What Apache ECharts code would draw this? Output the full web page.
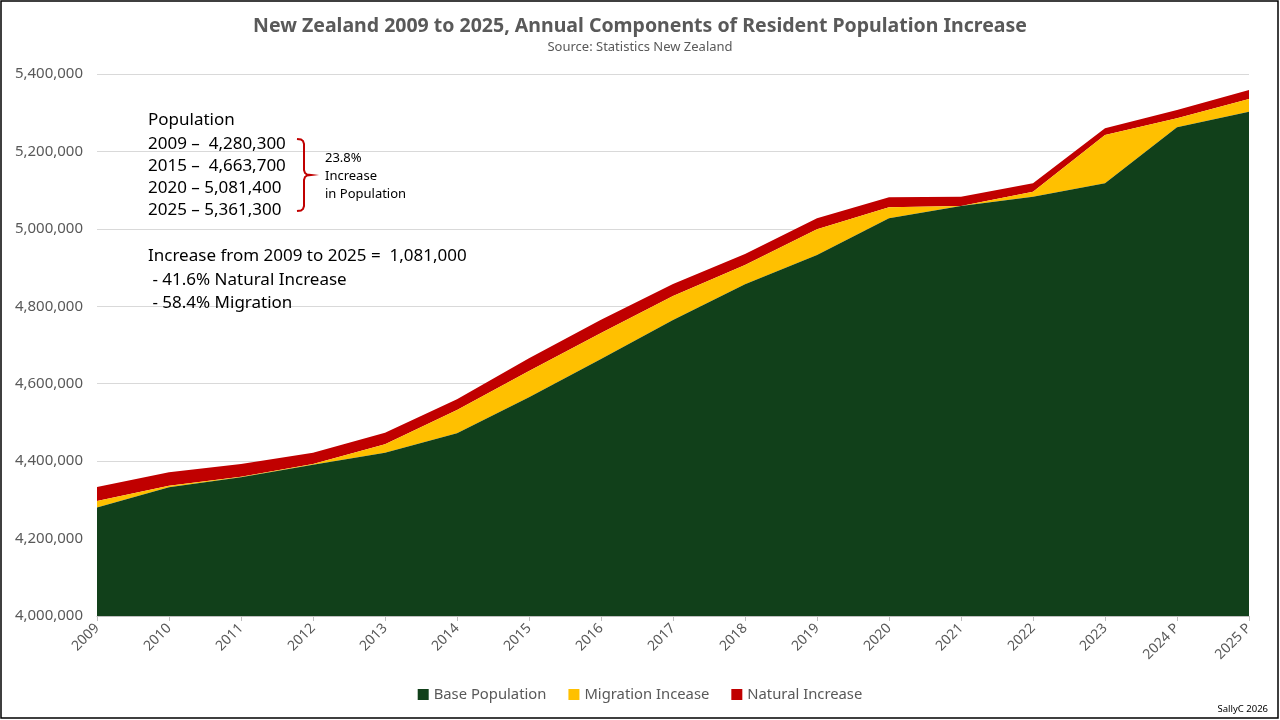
<!DOCTYPE html>
<html>
<head>
<meta charset="utf-8">
<script src="https://cdn.jsdelivr.net/npm/echarts@6/dist/echarts.min.js"></script>
<style>
html,body{margin:0;padding:0;background:#fff;}
#c{width:1280px;height:720px;}
</style>
</head>
<body>
<div id="c"></div>
<script>
const categories = ['2009','2010','2011','2012','2013','2014','2015','2016','2017','2018','2019','2020','2021','2022','2023','2024 P','2025 P'];
const basePopulation = [4280300,4332400,4358300,4390800,4421800,4471900,4564900,4663700,4764600,4856800,4932500,5027300,5059000,5083000,5117700,5262300,5302600];
const migrationIncrease = [17000,4100,1500,1800,21700,60200,67900,67200,62000,49900,66400,28400,0,12900,124800,23200,32800];
const naturalIncrease = [36200,34600,32800,29200,30000,27600,32800,34400,31000,28400,28400,25800,24000,21700,17300,21400,23200];
const yTicks = [4000000,4200000,4400000,4600000,4800000,5000000,5200000,5400000];

const FONT = 'Noto Sans';
const chart = echarts.init(document.getElementById('c'));

const note = (t, x, y, size) => ({
  type: 'text', x: x, y: y, z: 60,
  style: { text: t, font: size + 'px "' + FONT + '"', fill: '#000', textVerticalAlign: 'middle' }
});

chart.setOption({
  animation: false,
  backgroundColor: '#fff',
  title: {
    text: 'New Zealand 2009 to 2025, Annual Components of Resident Population Increase',
    subtext: 'Source: Statistics New Zealand',
    left: 'center', top: 11, itemGap: 5,
    textStyle: { fontFamily: FONT, fontSize: 19.5, fontWeight: 'bold', color: '#595959' },
    subtextStyle: { fontFamily: FONT, fontSize: 13, color: '#595959' }
  },
  legend: {
    bottom: 13, left: 'center', icon: 'rect', itemWidth: 11, itemHeight: 11, itemGap: 22, itemTextGap: 4,
    textStyle: { fontFamily: FONT, fontSize: 14.8, color: '#595959' },
    data: ['Base Population', 'Migration Incease', 'Natural Increase']
  },
  grid: { left: 97, right: 31, top: 74, bottom: 104, containLabel: false },
  xAxis: {
    type: 'category', data: categories, boundaryGap: false,
    axisLine: { lineStyle: { color: '#bfbfbf' } },
    axisTick: { show: true, length: 5, lineStyle: { color: '#bfbfbf' } },
    axisLabel: { rotate: 45, fontFamily: FONT, fontSize: 14, color: '#595959', margin: 10, interval: 0 }
  },
  yAxis: {
    type: 'value', min: yTicks[0], max: yTicks[yTicks.length - 1], interval: 200000,
    axisLine: { show: false }, axisTick: { show: false },
    splitLine: { lineStyle: { color: '#d9d9d9' } },
    axisLabel: { fontFamily: FONT, fontSize: 15, color: '#595959', margin: 14,
      formatter: v => v.toLocaleString('en-US') }
  },
  series: [
    { name: 'Base Population', type: 'line', stack: 'total', data: basePopulation,
      symbol: 'none', lineStyle: { width: 0 }, itemStyle: { color: '#11401a' },
      areaStyle: { color: '#11401a', opacity: 1 }, z: 3 },
    { name: 'Migration Incease', type: 'line', stack: 'total', data: migrationIncrease,
      symbol: 'none', lineStyle: { width: 0 }, itemStyle: { color: '#ffc000' },
      areaStyle: { color: '#ffc000', opacity: 1 }, z: 2 },
    { name: 'Natural Increase', type: 'line', stack: 'total', data: naturalIncrease,
      symbol: 'none', lineStyle: { width: 0 }, itemStyle: { color: '#c00000' },
      areaStyle: { color: '#c00000', opacity: 1 }, z: 1 }
  ],
  graphic: [
    { type: 'rect', shape: { x: 1, y: 1, width: 1277, height: 717 },
      style: { fill: 'none', stroke: '#000', lineWidth: 1.5 }, silent: true, z: 100 },
    note('Population', 148, 120, 17),
    note('2009 –  4,280,300', 148, 144, 17),
    note('2015 –  4,663,700', 148, 166, 17),
    note('2020 – 5,081,400', 148, 188, 17),
    note('2025 – 5,361,300', 148, 210, 17),
    note('Increase from 2009 to 2025 =  1,081,000', 148, 256, 17),
    note(' - 41.6% Natural Increase', 148, 280, 17),
    note(' - 58.4% Migration', 148, 303, 17),
    note('23.8%', 325, 158, 13),
    note('Increase', 325, 176, 13),
    note('in Population', 325, 194, 13),
    { type: 'polyline', z: 50,
      shape: { points: [[297,139],[301,139.5],[303,141],[304,144],[304,170],[305,173],[307,174.5],[311,175],[307,175.5],[305,177],[304,180],[304,206],[303,209],[301,210.5],[297,211]] },
      style: { fill: null, stroke: '#c00000', lineWidth: 2 } },
    { type: 'text', x: 1268, y: 709, z: 60,
      style: { text: 'SallyC 2026', font: '9.5px "' + FONT + '"', fill: '#000', textAlign: 'right', textVerticalAlign: 'middle' } }
  ]
});
</script>
</body>
</html>
